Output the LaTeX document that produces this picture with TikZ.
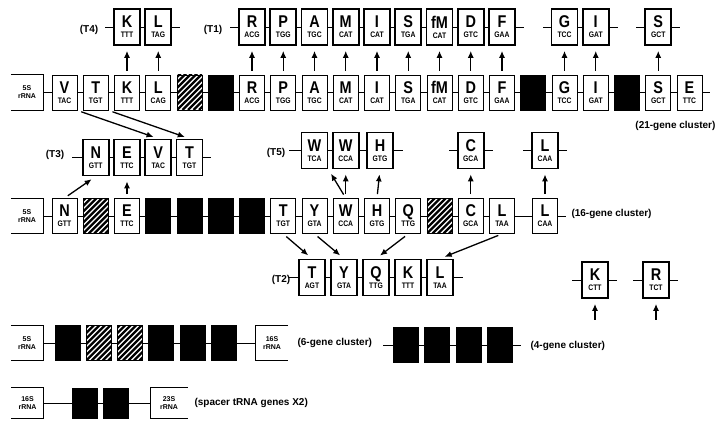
\documentclass[tikz,border=0pt]{standalone}
\usepackage{fontspec}
\setmainfont{Liberation Sans}
\newfontfamily\genefont[FakeStretch=0.85]{Liberation Sans}
\usetikzlibrary{positioning,arrows.meta}

\tikzset{
  gene/.style={draw, line width=0.9pt, minimum width=25pt, minimum height=35pt, inner sep=0pt, align=center, font=\genefont\bfseries},
  trna/.style={gene, line width=1.8pt, minimum width=26pt, minimum height=36pt},
  blk/.style={gene, fill=black},
  hatch/.style={gene, path picture={\foreach \k in {-8,...,5} \draw[line width=2.4pt] ([xshift=\k*5.5pt]path picture bounding box.south west) -- ++(45pt,45pt);}},
  rrna/.style={minimum width=32pt, minimum height=35pt, inner sep=0pt, align=center, font=\bfseries\fontsize{7}{8}\selectfont},
  lbl/.style={font=\bfseries\fontsize{10}{12}\selectfont},
  up/.style={-{Latex[length=7pt,width=6pt]}, line width=1.3pt, shorten <=4pt, shorten >=5pt},
  link/.style={line width=0.9pt}
}
\newcommand{\gn}[2]{{\fontsize{17}{17}\selectfont #1}\\[-2pt]{\fontsize{8}{8}\selectfont #2}}
\newcommand{\openleft}[1]{\draw[link] (#1.north west) -- (#1.north east) -- (#1.south east) -- (#1.south west);}
\newcommand{\openright}[1]{\draw[link] (#1.north east) -- (#1.north west) -- (#1.south west) -- (#1.south east);}

\begin{document}
\begin{tikzpicture}[x=1pt,y=-1pt]
\fill[white] (0,0) rectangle (721,427);
\useasboundingbox (0,0) rectangle (721,427);

% 21-gene cluster
\node[rrna] (a5s) at (27,92.5) {5S\\rRNA};
\openleft{a5s}
\foreach \s/\l/\c [count=\i from 0] in {gene/V/TAC, gene/T/TGT, gene/K/TTT, gene/L/CAG, hatch//, blk//,
    gene/R/ACG, gene/P/TGG, gene/A/TGC, gene/M/CAT, gene/I/CAT, gene/S/TGA, gene/fM/CAT, gene/D/GTC,
    gene/F/GAA, blk//, gene/G/TCC, gene/I/GAT, blk//, gene/S/GCT, gene/E/TTC}
  \node[\s] (a\i) at (64.5+31.25*\i,92.5) {\gn{\l}{\c}};
\foreach \i [evaluate=\i as \j using int(\i+1)] in {0,...,19}
  \draw[link] (a\i.east) -- (a\j.west);
\draw[link] (a5s.east) -- (a0.west);
\draw[link] (a20.east) -- ++(8,0);
\node[lbl, anchor=east] (l21) at (719,126) {(21-gene cluster)};

% T4 and T1 transcripts
\foreach \i/\l/\c in {2/K/TTT, 3/L/TAG, 6/R/ACG, 7/P/TGG, 8/A/TGC, 9/M/CAT, 10/I/CAT, 11/S/TGA,
    12/fM/CAT, 13/D/GTC, 14/F/GAA, 16/G/TCC, 17/I/GAT, 19/S/GCT}
{
  \node[trna] (u\i) at (64.5+31.25*\i,27) {\gn{\l}{\c}};
  \draw[up] (a\i.north) -- (u\i.south);
}
\foreach \i/\j in {2/3, 6/7, 7/8, 8/9, 9/10, 10/11, 11/12, 12/13, 13/14, 16/17}
  \draw[link] (u\i.east) -- (u\j.west);
\foreach \i in {2,6,16,19} \draw[link] (u\i.west) -- ++(-8,0);
\foreach \i in {3,14,17,19} \draw[link] (u\i.east) -- ++(8,0);
\node[lbl] (lt4) at (89,30) {(T4)};
\node[lbl] (lt1) at (213,30) {(T1)};

% 16-gene cluster
\node[rrna] (b5s) at (27,216) {5S\\rRNA};
\openleft{b5s}
\foreach \s/\l/\c [count=\i from 0] in {gene/N/GTT, hatch//, gene/E/TTC, blk//, blk//, blk//, blk//,
    gene/T/TGT, gene/Y/GTA, gene/W/CCA, gene/H/GTG, gene/Q/TTG, hatch//, gene/C/GCA, gene/L/TAA}
  \node[\s] (b\i) at (64.5+31.25*\i,216) {\gn{\l}{\c}};
\node[gene] (b15) at (545,216) {\gn{L}{CAA}};
\foreach \i [evaluate=\i as \j using int(\i+1)] in {0,...,14}
  \draw[link] (b\i.east) -- (b\j.west);
\draw[link] (b5s.east) -- (b0.west);
\draw[link] (b15.east) -- ++(8,0);
\node[lbl, anchor=west] (l16) at (568,214) {(16-gene cluster)};

% T3 transcript
\foreach \l/\c/\n [count=\i from 0] in {N/GTT/n, E/TTC/e, V/TAC/v, T/TGT/t}
  \node[trna] (t3\n) at (95.75+31.25*\i,157.5) {\gn{\l}{\c}};
\draw[link] (t3n.east) -- (t3e.west);
\draw[link] (t3e.east) -- (t3v.west);
\draw[link] (t3v.east) -- (t3t.west);
\draw[link] (t3n.west) -- ++(-10,0);
\draw[link] (t3t.east) -- ++(8,0);
\node[lbl] (lt3) at (55,155) {(T3)};
\draw[up] (a0.south east) -- (t3v.north);
\draw[up] (a1.south east) -- (t3t.north);
\draw[up] (b0.north) -- (t3n.south);
\draw[up] (b2.north) -- (t3e.south);

% T5 transcript
\node[trna] (t5w1) at (314.5,150.5) {\gn{W}{TCA}};
\node[trna] (t5w2) at (345.75,150.5) {\gn{W}{CCA}};
\node[trna] (t5h) at (380,150.5) {\gn{H}{GTG}};
\node[trna] (t5c) at (470.75,150.5) {\gn{C}{GCA}};
\node[trna] (t5l) at (545,150.5) {\gn{L}{CAA}};
\draw[link] (t5w1.east) -- (t5w2.west);
\draw[link] (t5w2.east) -- (t5h.west);
\draw[link] (t5w1.west) -- ++(-12,0);
\draw[link] (t5h.east) -- ++(9,0);
\foreach \n in {t5c,t5l} {
  \draw[link] (\n.west) -- ++(-8,0);
  \draw[link] (\n.east) -- ++(8,0);
}
\node[lbl] (lt5) at (276,153) {(T5)};
\draw[up] (b9.north) -- (t5w2.south);
\draw[up] (b9.north) -- (t5w1.south east);
\draw[up] (b10.north) -- (t5h.south);
\draw[up] (b13.north) -- (t5c.south);
\draw[up] (b15.north) -- (t5l.south);

% T2 transcript
\foreach \l/\c/\n [count=\i from 0] in {T/AGT/t, Y/GTA/y, Q/TTG/q, K/TTT/k, L/TAA/l}
  \node[trna] (t2\n) at (312+32*\i,277.5) {\gn{\l}{\c}};
\draw[link] (t2t.east) -- (t2y.west);
\draw[link] (t2y.east) -- (t2q.west);
\draw[link] (t2q.east) -- (t2k.west);
\draw[link] (t2k.east) -- (t2l.west);
\draw[link] (t2t.west) -- ++(-10,0);
\draw[link] (t2l.east) -- ++(9,0);
\node[lbl] (lt2) at (281,280) {(T2)};
\draw[up] (b7.south) -- (t2t.north);
\draw[up] (b8.south) -- (t2y.north);
\draw[up] (b11.south) -- (t2q.north);
\draw[up] (b14.south) -- (t2l.north);

% single transcripts K and R
\node[trna] (tk) at (595,280) {\gn{K}{CTT}};
\node[trna] (tr) at (656,280) {\gn{R}{TCT}};
\foreach \n in {tk,tr} {
  \draw[link] (\n.west) -- ++(-9,0);
  \draw[link] (\n.east) -- ++(8,0);
}
\coordinate (fk) at (595,324);
\coordinate (fr) at (656,324);
\draw[up] (fk) -- (tk.south);
\draw[up] (fr) -- (tr.south);

% 6-gene cluster
\node[rrna] (e5s) at (27,343) {5S\\rRNA};
\openleft{e5s}
\foreach \s [count=\i from 0] in {blk, hatch, hatch, blk, blk, blk}
  \node[\s] (e\i) at (67.5+31.25*\i,343) {};
\node[rrna] (e16s) at (272,343) {16S\\rRNA};
\openright{e16s}
\foreach \i [evaluate=\i as \j using int(\i+1)] in {0,...,4}
  \draw[link] (e\i.east) -- (e\j.west);
\draw[link] (e5s.east) -- (e0.west);
\draw[link] (e5.east) -- (e16s.west);
\node[lbl, anchor=west] (l6) at (294,343) {(6-gene cluster)};

% 4-gene cluster
\foreach \i in {0,...,3}
  \node[blk] (d\i) at (406+31.25*\i,345) {};
\foreach \i [evaluate=\i as \j using int(\i+1)] in {0,...,2}
  \draw[link] (d\i.east) -- (d\j.west);
\draw[link] (d0.west) -- ++(-10,0);
\draw[link] (d3.east) -- ++(8,0);
\node[lbl, anchor=west] (l4) at (527,346) {(4-gene cluster)};

% spacer tRNA genes
\node[rrna, minimum height=30pt] (s16) at (27.5,403) {16S\\rRNA};
\openleft{s16}
\node[blk, minimum height=30pt] (s0) at (84.5,403) {};
\node[blk, minimum height=30pt] (s1) at (115.5,403) {};
\node[rrna, minimum height=30pt, minimum width=37pt] (s23) at (169,403) {23S\\rRNA};
\openright{s23}
\draw[link] (s16.east) -- (s0.west);
\draw[link] (s0.east) -- (s1.west);
\draw[link] (s1.east) -- (s23.west);
\node[lbl, anchor=west] (lsp) at (191,403) {(spacer tRNA genes X2)};
\end{tikzpicture}
\end{document}
